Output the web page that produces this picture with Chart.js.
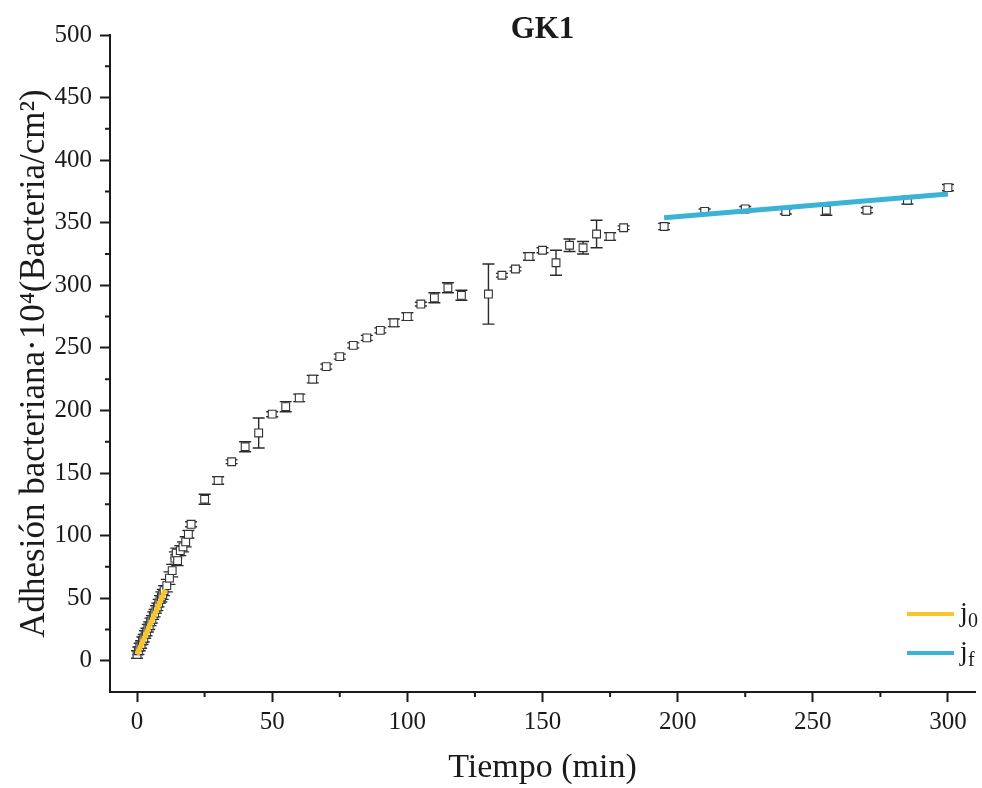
<!DOCTYPE html>
<html>
<head>
<meta charset="utf-8">
<title>GK1</title>
<script src="https://cdn.jsdelivr.net/npm/chart.js@4.4.1/dist/chart.umd.min.js"></script>
<style>
  html, body { margin: 0; padding: 0; background: #fff; }
  #wrap { position: relative; width: 982px; height: 788px; }
</style>
</head>
<body>
<div id="wrap"><canvas id="chart"></canvas></div>
<script>
// adhesion measurements (min, 10^4 bacteria/cm2) with standard deviation
const times = [
  0, 0.5, 1, 1.5, 2, 2.5, 3, 3.5, 4, 4.5, 5, 5.5, 6, 6.5, 7, 7.5, 8, 8.5, 9, 9.5, 10,
  11, 12, 13, 14, 14.5, 15, 16, 17, 18, 19, 20,
  25, 30, 35, 40, 45, 50, 55, 60, 65, 70, 75, 80, 85, 90, 95, 100,
  105, 110, 115, 120, 130, 135, 140, 145, 150, 155, 160, 165, 170, 175, 180,
  195, 210, 225, 240, 255, 270, 285, 300
];
const adhesion = [
  5, 8, 11, 13, 16, 18, 21, 23, 26, 28, 31, 33, 36, 38, 41, 43, 46, 49, 51, 53, 56,
  60, 66, 72, 82, 86, 80, 88, 91, 95, 101, 109,
  129, 144, 159, 171, 182, 197, 203, 210, 225, 235, 243, 252, 258, 264, 270, 275,
  285, 290, 298, 292, 293, 308, 313, 323, 328, 318, 332, 330, 341, 339, 346,
  347, 359, 361, 359, 360, 360, 368, 378
];
const errors = [
  3, 3, 3, 3, 3, 3, 3, 3, 3, 3, 3, 3, 3, 3, 3, 3, 3, 3, 4, 4, 4,
  5, 5, 5, 5, 4, 4, 4, 4, 4, 3, 2,
  4, 3, 1.5, 4, 12, 2, 4, 3, 3, 2, 2, 2, 2, 2, 3, 3,
  1.5, 4, 4, 4, 24, 1.5, 1.5, 3, 2, 10, 5, 5, 11, 3, 1.5,
  2.5, 2, 2, 2, 4, 2, 3, 2.5
];

// linear fits: initial rate j0 and final rate jf
const j0Times = [0, 10.5];
const j0Values = [5, 57];
const jfTimes = [195, 300];
const jfValues = [354, 373];

const xTicks = [0, 50, 100, 150, 200, 250, 300];
const yTicks = [0, 50, 100, 150, 200, 250, 300, 350, 400, 450, 500];

const FONT = "'Liberation Serif', 'DejaVu Serif', serif";
const INK = '#1a1a1a';

const toPoints = (xs, ys) => xs.map((x, i) => ({ x, y: ys[i] }));

// error bars under the markers
const errorBars = {
  id: 'errorBars',
  beforeDatasetsDraw(chart) {
    const { ctx, scales: { x, y } } = chart;
    ctx.save();
    ctx.strokeStyle = '#2a2a2a';
    ctx.lineWidth = 1.4;
    times.forEach((t, i) => {
      const px = x.getPixelForValue(t);
      const top = y.getPixelForValue(adhesion[i] + errors[i]);
      const bot = y.getPixelForValue(adhesion[i] - errors[i]);
      ctx.beginPath();
      ctx.moveTo(px, top); ctx.lineTo(px, bot);
      ctx.moveTo(px - 6, top); ctx.lineTo(px + 6, top);
      ctx.moveTo(px - 6, bot); ctx.lineTo(px + 6, bot);
      ctx.stroke();
    });
    ctx.restore();
  }
};

// minor ticks, title and legend with subscripts
const decorations = {
  id: 'decorations',
  afterDraw(chart) {
    const { ctx, chartArea, scales: { x, y } } = chart;
    ctx.save();
    ctx.strokeStyle = INK;
    ctx.lineWidth = 2;
    ctx.beginPath();
    for (let v = 25; v < x.max; v += 50) {
      const px = x.getPixelForValue(v);
      ctx.moveTo(px, chartArea.bottom); ctx.lineTo(px, chartArea.bottom + 5);
    }
    for (let v = 25; v < y.max; v += 50) {
      const py = y.getPixelForValue(v);
      ctx.moveTo(chartArea.left, py); ctx.lineTo(chartArea.left - 5, py);
    }
    ctx.stroke();

    ctx.fillStyle = INK;
    ctx.font = 'bold 31px ' + FONT;
    ctx.textAlign = 'center';
    ctx.textBaseline = 'middle';
    ctx.fillText('GK1', (chartArea.left + chartArea.right) / 2, 30);

    const items = [
      { sub: '0', color: chart.data.datasets[1].borderColor },
      { sub: 'f', color: chart.data.datasets[2].borderColor }
    ];
    items.forEach((it, i) => {
      const ly = 614 + i * 39;
      const lx = chartArea.right - 68;
      ctx.strokeStyle = it.color;
      ctx.lineWidth = 4;
      ctx.beginPath();
      ctx.moveTo(lx, ly); ctx.lineTo(lx + 47, ly);
      ctx.stroke();
      ctx.fillStyle = INK;
      ctx.textAlign = 'left';
      ctx.textBaseline = 'alphabetic';
      ctx.font = '28px ' + FONT;
      ctx.fillText('j', lx + 53, ly + 7);
      ctx.font = '20px ' + FONT;
      ctx.fillText(it.sub, lx + 61, ly + 13);
    });
    ctx.restore();
  }
};

new Chart(document.getElementById('chart'), {
  type: 'scatter',
  data: {
    datasets: [
      {
        data: toPoints(times, adhesion),
        pointStyle: 'rect',
        pointRadius: 5.5,
        pointBackgroundColor: '#fff',
        pointBorderColor: '#333',
        pointBorderWidth: 1.1,
        showLine: false,
        order: 2
      },
      {
        label: 'j0',
        data: toPoints(j0Times, j0Values),
        showLine: true,
        borderColor: '#F9C52B',
        borderWidth: 5,
        pointRadius: 0,
        order: 1
      },
      {
        label: 'jf',
        data: toPoints(jfTimes, jfValues),
        showLine: true,
        borderColor: '#3BB3D6',
        borderWidth: 5,
        pointRadius: 0,
        order: 0
      }
    ]
  },
  options: {
    responsive: true,
    maintainAspectRatio: false,
    animation: false,
    layout: { padding: { top: 35, left: 10, right: 7, bottom: 0 } },
    plugins: { legend: { display: false }, tooltip: { enabled: false } },
    scales: {
      x: {
        type: 'linear',
        min: -10,
        max: 310,
        afterBuildTicks: s => { s.ticks = xTicks.map(v => ({ value: v })); },
        afterFit: s => { s.height = 96; },
        border: { color: INK, width: 2 },
        grid: { drawOnChartArea: false, color: INK, tickLength: 10, tickWidth: 2 },
        ticks: { color: INK, font: { family: FONT, size: 25 }, padding: 5, maxRotation: 0 },
        title: { display: true, text: 'Tiempo (min)', color: INK, font: { family: FONT, size: 34 }, padding: { top: 6, bottom: 0 } }
      },
      y: {
        type: 'linear',
        min: -25,
        max: 500,
        afterBuildTicks: s => { s.ticks = yTicks.map(v => ({ value: v })); },
        afterFit: s => { s.width = 100; },
        border: { color: INK, width: 2 },
        grid: { drawOnChartArea: false, color: INK, tickLength: 10, tickWidth: 2 },
        ticks: { color: INK, font: { family: FONT, size: 25 }, padding: 8 },
        title: { display: true, text: 'Adhesión bacteriana·10⁴(Bacteria/cm²)', color: INK, font: { family: FONT, size: 35 }, padding: { top: 4, bottom: 4 } }
      }
    }
  },
  plugins: [errorBars, decorations]
});
</script>
</body>
</html>
